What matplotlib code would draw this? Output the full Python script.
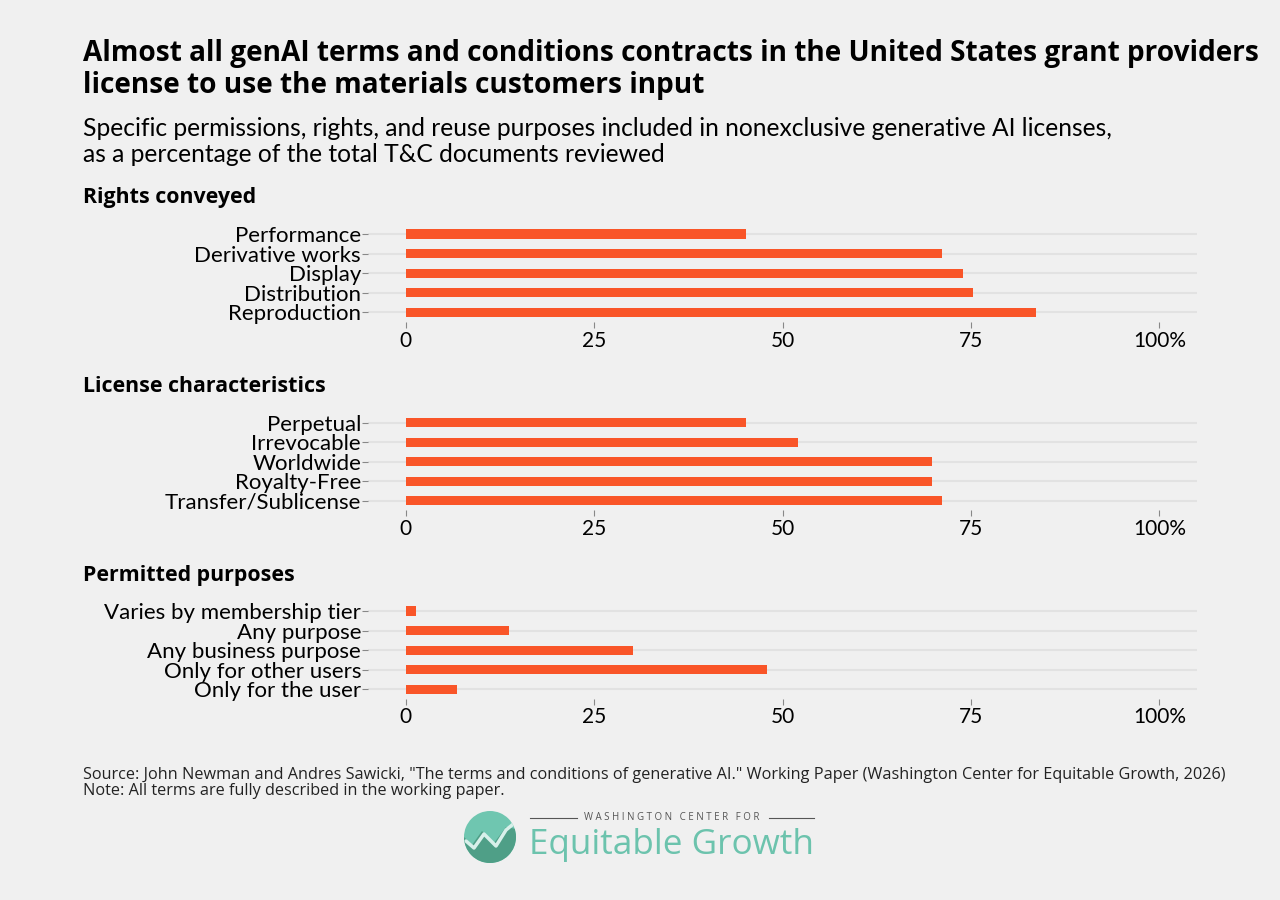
import matplotlib
matplotlib.use("Agg")
import matplotlib.pyplot as plt
from matplotlib.patches import Circle, Wedge, Polygon
import numpy as np

plt.rcParams['font.family'] = ['Lato', 'DejaVu Sans']

BG = '#f0f0f0'
BAR = '#f95528'
GRID = '#e2e2e2'
BOLD = ['Open Sans', 'DejaVu Sans']

rights_labels = ["Reproduction", "Distribution", "Display", "Derivative works", "Performance"]
rights_values = [83.6, 75.3, 74.0, 71.2, 45.2]

license_labels = ["Transfer/Sublicense", "Royalty-Free", "Worldwide", "Irrevocable", "Perpetual"]
license_values = [71.2, 69.9, 69.9, 52.1, 45.2]

purpose_labels = ["Only for the user", "Only for other users", "Any business purpose", "Any purpose", "Varies by membership tier"]
purpose_values = [6.8, 47.9, 30.1, 13.7, 1.4]

x_ticks = [0, 25, 50, 75, 100]
x_ticklabels = ["0", "25", "50", "75", "100%"]

panels = [
    ("Rights conveyed", rights_labels, rights_values, 0.642, 0.751, 0.781),
    ("License characteristics", license_labels, license_values, 0.433, 0.541, 0.571),
    ("Permitted purposes", purpose_labels, purpose_values, 0.2233, 0.332, 0.360),
]

fig = plt.figure(figsize=(12.8, 9), dpi=100, facecolor=BG)

fig.text(83/1280, 1 - 53/900, "Almost all genAI terms and conditions contracts in the United States grant providers",
         fontsize=20.2, fontweight='bold', va='center', ha='left', color='black', family=BOLD)
fig.text(83/1280, 1 - 85/900, "license to use the materials customers input",
         fontsize=20.2, fontweight='bold', va='center', ha='left', color='black', family=BOLD)
fig.text(83/1280, 1 - 129/900, "Specific permissions, rights, and reuse purposes included in nonexclusive generative AI licenses,",
         fontsize=17.7, va='center', ha='left', color='black')
fig.text(83/1280, 1 - 154/900, "as a percentage of the total T&C documents reviewed",
         fontsize=17.7, va='center', ha='left', color='black')

for title, labels, values, bot, top, ty in panels:
    ax = fig.add_axes([368/1280, bot, 829/1280, top - bot])
    ax.set_facecolor(BG)
    y = np.arange(len(labels))
    ax.barh(y, values, height=0.47, color=BAR, zorder=3)
    ax.set_yticks(y)
    ax.set_yticklabels(labels, fontsize=16)
    ax.set_xticks(x_ticks)
    ax.set_xticklabels(x_ticklabels, fontsize=15)
    ax.set_xlim(-5, 105)
    ax.set_ylim(-0.5, 4.5)
    ax.grid(axis='y', color=GRID, linewidth=1.5, zorder=0)
    ax.grid(axis='x', visible=False)
    for s in ax.spines.values():
        s.set_visible(False)
    ax.tick_params(axis='y', length=4, color='#888888', width=0.8, pad=1)
    ax.tick_params(axis='x', length=4, color='#888888', width=0.8, pad=2)
    fig.text(83/1280, ty, title, fontsize=15.4, fontweight='bold', va='center', ha='left', family=BOLD)

fig.text(83/1280, 1 - 775/900,
         "Source: John Newman and Andres Sawicki, \"The terms and conditions of generative AI.\" Working Paper (Washington Center for Equitable Growth, 2026)",
         fontsize=11.7, va='center', ha='left', color='#222222', family=['Open Sans', 'DejaVu Sans'])
fig.text(83/1280, 1 - 791/900, "Note: All terms are fully described in the working paper.",
         fontsize=11.7, va='center', ha='left', color='#222222', family=['Open Sans', 'DejaVu Sans'])

# logo
lax = fig.add_axes([0, 0, 1, 1], facecolor='none')
lax.set_xlim(0, 1280)
lax.set_ylim(900, 0)
lax.axis('off')
cx, cy, r = 490, 837, 26
lax.add_patch(Wedge((cx, cy), r, 0, 360, facecolor='#6fc6b0', edgecolor='none'))
lax.add_patch(Polygon([[cx - r, cy], [cx - 18, cy + 8], [cx - 8, cy - 6], [cx + 4, cy + 6], [cx + 16, cy - 10], [cx + r, cy - 8],
                       [cx + r, cy + r], [cx - r, cy + r]], closed=True, facecolor='#4f9f87', edgecolor='none'))
circ = Circle((cx, cy), r, transform=lax.transData)
lax.patches[-1].set_clip_path(circ)
lax.plot([cx - 24, cx - 16, cx - 6, cx + 6, cx + 16, cx + 27], [cy + 4, cy + 11, cy - 3, cy + 9, cy - 7, cy - 16],
         color='#d8f0ea', linewidth=2.5, solid_capstyle='round', clip_path=circ)
lax.text(672, 818, "W A S H I N G T O N   C E N T E R   F O R", fontsize=7.0, color='#555555', ha='center', va='center',
         family=['Open Sans', 'DejaVu Sans'])
lax.plot([530, 577], [818, 818], color='#555555', linewidth=0.8)
lax.plot([769, 814], [818, 818], color='#555555', linewidth=0.8)
lax.text(529, 845, "Equitable Growth", fontsize=25.3, color='#6cc3ad', ha='left', va='center',
         family=['Open Sans', 'DejaVu Sans'])

fig.savefig("out.png", dpi=100, facecolor=BG)
